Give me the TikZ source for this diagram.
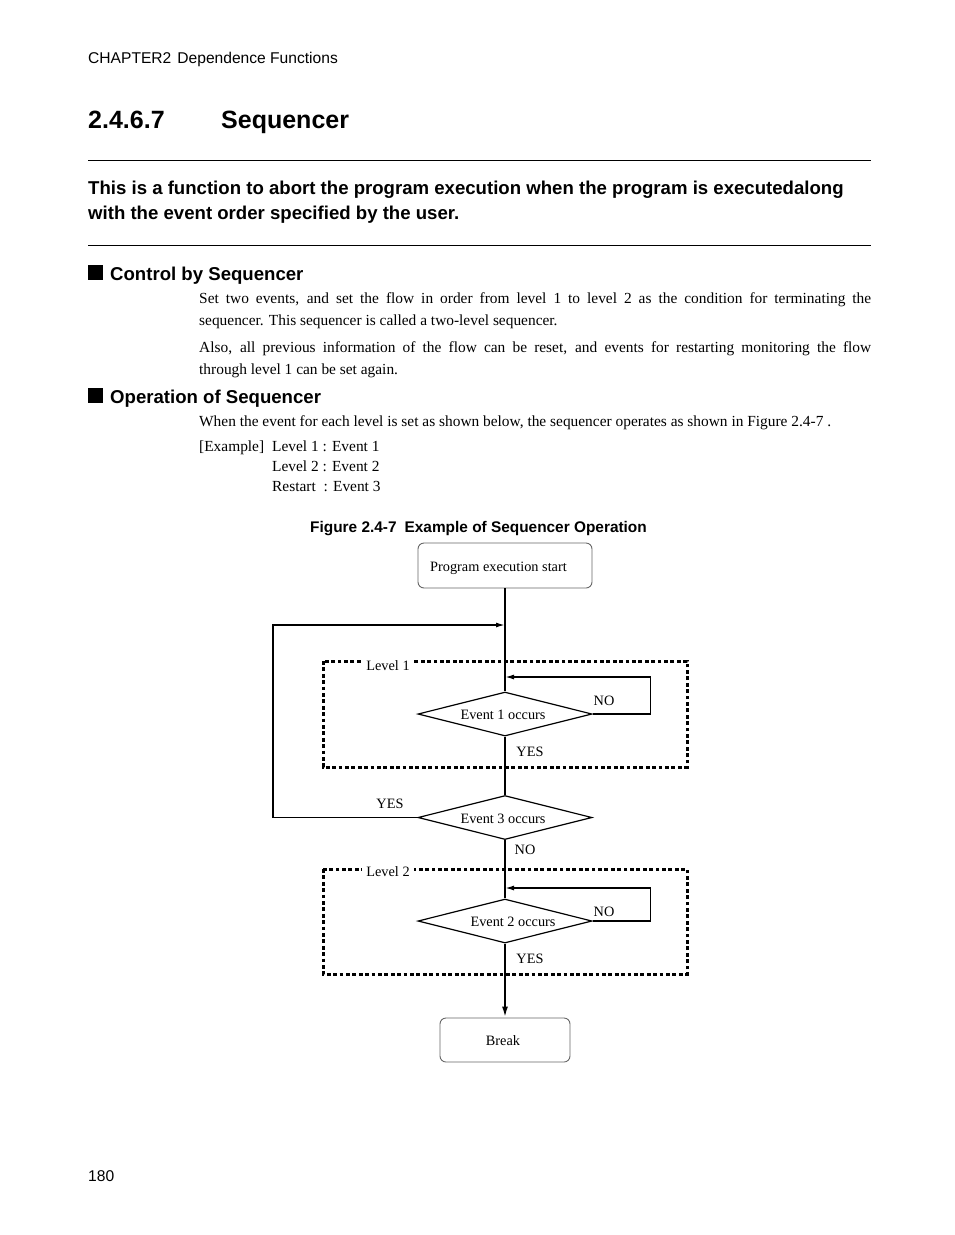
\documentclass[tikz,border=0pt]{standalone}
\usepackage{fontspec}
\setmainfont{Liberation Serif}
\setsansfont{Liberation Sans}
\usepackage{tikz}
\usetikzlibrary{arrows.meta,shapes.geometric,positioning}

\begin{document}
\begin{tikzpicture}[x=1pt,y=-1pt,
  body/.style={anchor=base west,inner sep=0pt,font=\fontsize{15.4}{22}\selectfont},
  head/.style={anchor=base west,inner sep=0pt,font=\sffamily\bfseries\fontsize{18.6}{24}\selectfont},
  startbox/.style={draw=black!60,line width=0.9pt,rounded corners=6pt,minimum width=174pt,minimum height=45pt,text height=12pt,text depth=1pt,font=\fontsize{14.3}{16}\selectfont},
  decision/.style={diamond,draw,line width=1.2pt,aspect=3.95,minimum width=174pt,minimum height=44pt,inner sep=0pt,text height=12pt,text depth=1pt,font=\fontsize{14.3}{16}\selectfont},
  levelbox/.style={line width=3pt,dash pattern=on 3.8pt off 2.6pt},
  lbl/.style={inner sep=0pt,font=\fontsize{14.3}{16}\selectfont},
  flow/.style={line width=2pt},
  back/.style={line width=1.5pt},
  tip/.style={-{Latex[length=9pt,width=5pt]}}]
\fill[white] (0,0) rectangle (954,1235);
\useasboundingbox (0,0) rectangle (954,1235);

% page header and section title
\node[anchor=base west,inner sep=0pt,font=\sffamily\fontsize{15.6}{18}\selectfont] (chap) at (88,63) {CHAPTER2\hspace{6pt}Dependence Functions};
\node[anchor=base west,inner sep=0pt,font=\sffamily\bfseries\fontsize{25}{28}\selectfont] (secno) at (88,128) {2.4.6.7};
\node[anchor=base west,inner sep=0pt,font=\sffamily\bfseries\fontsize{25}{28}\selectfont] (sectitle) at (221,128) {Sequencer};
\draw[line width=1pt] (88,160) -- (871,160);
\node[head] (intro1) at (88,194) {This is a function to abort the program execution when the program is executedalong};
\node[head] (intro2) at (88,219) {with the event order specified by the user.};
\draw[line width=1pt] (88,245) -- (871,245);

% control by sequencer
\node[head] (ctrl) at (88,280) {\rule{15pt}{15pt}\hspace{7pt}Control by Sequencer};
\node[body] (par1) at (199,303) {\makebox[672pt][s]{Set two events, and set the flow in order from level 1 to level 2 as the condition for terminating the}};
\node[body] (par2) at (199,325) {sequencer. This sequencer is called a two-level sequencer.};
\node[body] (par3) at (199,352) {\makebox[672pt][s]{Also, all previous information of the flow can be reset, and events for restarting monitoring the flow}};
\node[body] (par4) at (199,374) {through level 1 can be set again.};

% operation of sequencer
\node[head] (oper) at (88,403) {\rule{15pt}{15pt}\hspace{7pt}Operation of Sequencer};
\node[body] (par5) at (199,426) {When the event for each level is set as shown below, the sequencer operates as shown in Figure 2.4-7 .};
\node[body] (exa) at (199,451) {[Example]};
\node[body] (exa1) at (272,451) {Level 1 : Event 1};
\node[body] (exa2) at (272,471) {Level 2 : Event 2};
\node[body] (exa3) at (272,491) {Restart\hspace{4pt} : Event 3};
\node[anchor=base west,inner sep=0pt,font=\sffamily\bfseries\fontsize{15.4}{17}\selectfont] (caption) at (310,532) {Figure 2.4-7\hspace{8pt}Example of Sequencer Operation};

% level frames
\draw[levelbox] (323,661) rectangle (687,767);
\node[lbl,fill=white,inner xsep=4pt,inner ysep=2pt] (lev1) at (388,666) {Level 1};
\draw[levelbox] (323,869) rectangle (687,974);
\node[lbl,fill=white,inner xsep=4pt,inner ysep=2pt] (lev2) at (388,872) {Level 2};

% flow chart
\node[startbox] (start) at (505,565.5) {Program execution start\hspace*{13pt}};
\node[decision] (ev1) at (505,714) {Event 1 occurs\hspace*{4pt}};
\node[decision] (ev3) at (505,817.5) {Event 3 occurs\hspace*{4pt}};
\node[decision] (ev2) at (505,921) {\hspace*{16pt}Event 2 occurs};
\node[startbox,minimum width=130pt,minimum height=44pt] (brk) at (505,1040) {Break\hspace*{4pt}};

\coordinate (join3) at (505,625);
\coordinate (join1) at (505,677);
\coordinate (join2) at (505,888);
\coordinate (turn3) at (273,817.5);

\draw[flow] (start) -- (ev1);
\draw[flow] (ev1) -- (ev3);
\draw[flow] (ev3) -- (ev2);
\draw[flow,-{Latex[length=11pt,width=6pt]}] (ev2) -- (brk);
\draw[back,tip] (ev3.west) -- (turn3) |- (join3);
\draw[back,tip] (ev1.east) -- ++(58,0) |- (join1);
\draw[back,tip] (ev2.east) -- ++(58,0) |- (join2);

\node[lbl] (no1) at (604,701) {NO};
\node[lbl] (yes1) at (530,752) {YES};
\node[lbl] (yes3) at (390,804) {YES};
\node[lbl] (no3) at (525,850) {NO};
\node[lbl] (no2) at (604,912) {NO};
\node[lbl] (yes2) at (530,959) {YES};

% page number
\node[anchor=base west,inner sep=0pt,font=\sffamily\fontsize{15.6}{18}\selectfont] (pageno) at (88,1181) {180};
\end{tikzpicture}
\end{document}
